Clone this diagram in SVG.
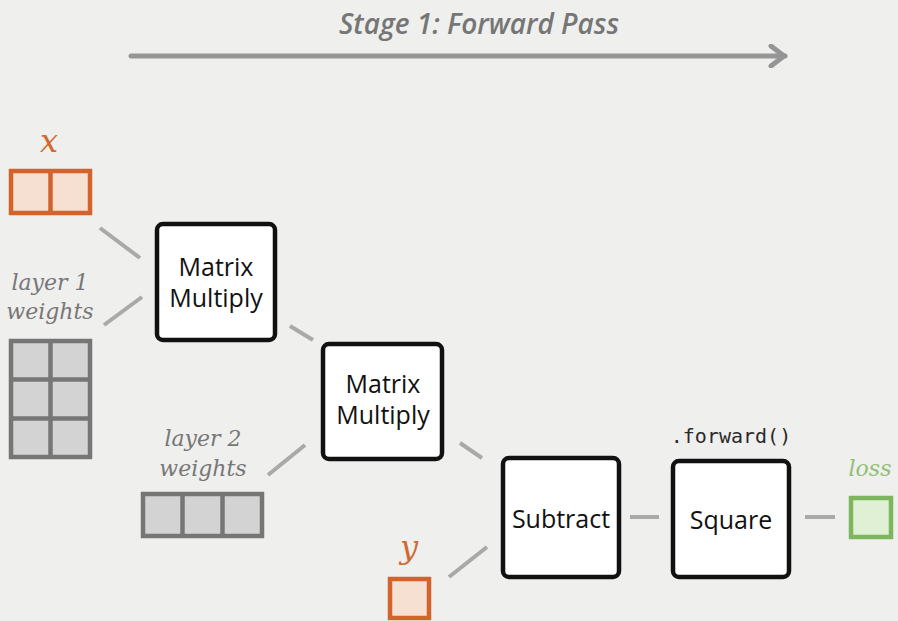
<svg xmlns="http://www.w3.org/2000/svg" width="898" height="621" viewBox="0 0 898 621">
<defs>
<style>
.bg{fill:#efefed}
.op{fill:#ffffff;stroke:#111111;stroke-width:4.5}
.opt{font-family:"Open Sans","Noto Sans",sans-serif;font-size:25px;fill:#111111;text-anchor:middle}
.lbl{font-family:"DejaVu Serif",serif;font-style:italic;font-size:22px;fill:#777777;text-anchor:middle}
.var{font-family:"DejaVu Serif",serif;font-style:italic;font-size:32px;fill:#cf6a35;text-anchor:middle}
.org{fill:#f5e0d2;stroke:#d2632c;stroke-width:4.5}
.gry{fill:#d3d3d3;stroke:#767676;stroke-width:4.5}
.grn{fill:#dff0d4;stroke:#7cb75e;stroke-width:4.5}
.con{stroke:#a9a9a9;stroke-width:4;fill:none}
</style>
<marker id="chev" viewBox="0 0 20 24" refX="18" refY="12" markerWidth="20" markerHeight="24" markerUnits="userSpaceOnUse" orient="auto">
<path d="M4 2 L17 12 L4 22" fill="none" stroke="#959595" stroke-width="5" stroke-linecap="round" stroke-linejoin="round"/>
</marker>
</defs>
<rect class="bg" x="0" y="0" width="898" height="621"/>

<g id="stage">
<text x="479" y="34" font-family="Open Sans, Noto Sans, sans-serif" font-style="italic" font-weight="600" font-size="28" fill="#767676" text-anchor="middle">Stage 1: Forward Pass</text>
<line x1="131" y1="56" x2="785" y2="56" stroke="#959595" stroke-width="5" stroke-linecap="round" marker-end="url(#chev)"/>
</g>

<g id="connectors">
<line class="con" x1="100" y1="228" x2="140" y2="258"/>
<line class="con" x1="104" y1="325" x2="142" y2="297"/>
<line class="con" x1="290" y1="326" x2="313" y2="340"/>
<line class="con" x1="268" y1="475" x2="305" y2="445"/>
<line class="con" x1="460" y1="443" x2="482" y2="458"/>
<line class="con" x1="449" y1="577" x2="487" y2="547"/>
<line class="con" x1="630" y1="517" x2="659" y2="517"/>
<line class="con" x1="805" y1="517" x2="835" y2="517"/>
</g>

<g id="x">
<text class="var" x="49" y="152">x</text>
<rect class="org" x="11" y="171" width="79" height="42"/>
<line x1="50.5" y1="171" x2="50.5" y2="213" stroke="#d2632c" stroke-width="4.5"/>
</g>

<g id="w1">
<text class="lbl" x="50" y="290">layer 1</text>
<text class="lbl" x="50" y="319">weights</text>
<rect class="gry" x="11" y="341" width="79" height="116"/>
<line x1="50.5" y1="341" x2="50.5" y2="457" stroke="#767676" stroke-width="4.5"/>
<line x1="11" y1="379.5" x2="90" y2="379.5" stroke="#767676" stroke-width="4.5"/>
<line x1="11" y1="418.5" x2="90" y2="418.5" stroke="#767676" stroke-width="4.5"/>
</g>

<g id="mm1">
<rect class="op" x="157" y="224" width="118" height="116" rx="6"/>
<text class="opt" x="216" y="276">Matrix</text>
<text class="opt" x="216" y="307">Multiply</text>
</g>

<g id="mm2">
<rect class="op" x="323" y="344" width="119" height="115" rx="6"/>
<text class="opt" x="383" y="393">Matrix</text>
<text class="opt" x="383" y="424">Multiply</text>
</g>

<g id="w2">
<text class="lbl" x="203" y="446">layer 2</text>
<text class="lbl" x="203" y="476">weights</text>
<rect class="gry" x="143" y="494" width="119" height="42"/>
<line x1="182.5" y1="494" x2="182.5" y2="536" stroke="#767676" stroke-width="4.5"/>
<line x1="222.5" y1="494" x2="222.5" y2="536" stroke="#767676" stroke-width="4.5"/>
</g>

<g id="y">
<text class="var" x="409" y="558">y</text>
<rect class="org" x="390" y="579" width="39" height="39"/>
</g>

<g id="subtract">
<rect class="op" x="503" y="458" width="116" height="119" rx="6"/>
<text class="opt" x="561" y="528">Subtract</text>
</g>

<g id="square">
<text x="731" y="443" font-family="DejaVu Sans Mono, Liberation Mono, monospace" font-size="20" fill="#2a2a2a" text-anchor="middle">.forward()</text>
<rect class="op" x="673" y="461" width="116" height="116" rx="6"/>
<text class="opt" x="731" y="529">Square</text>
</g>

<g id="loss">
<text x="870" y="476" font-family="DejaVu Serif, serif" font-style="italic" font-size="22" fill="#8fc073" text-anchor="middle">loss</text>
<rect class="grn" x="851" y="498" width="40" height="39"/>
</g>
</svg>
